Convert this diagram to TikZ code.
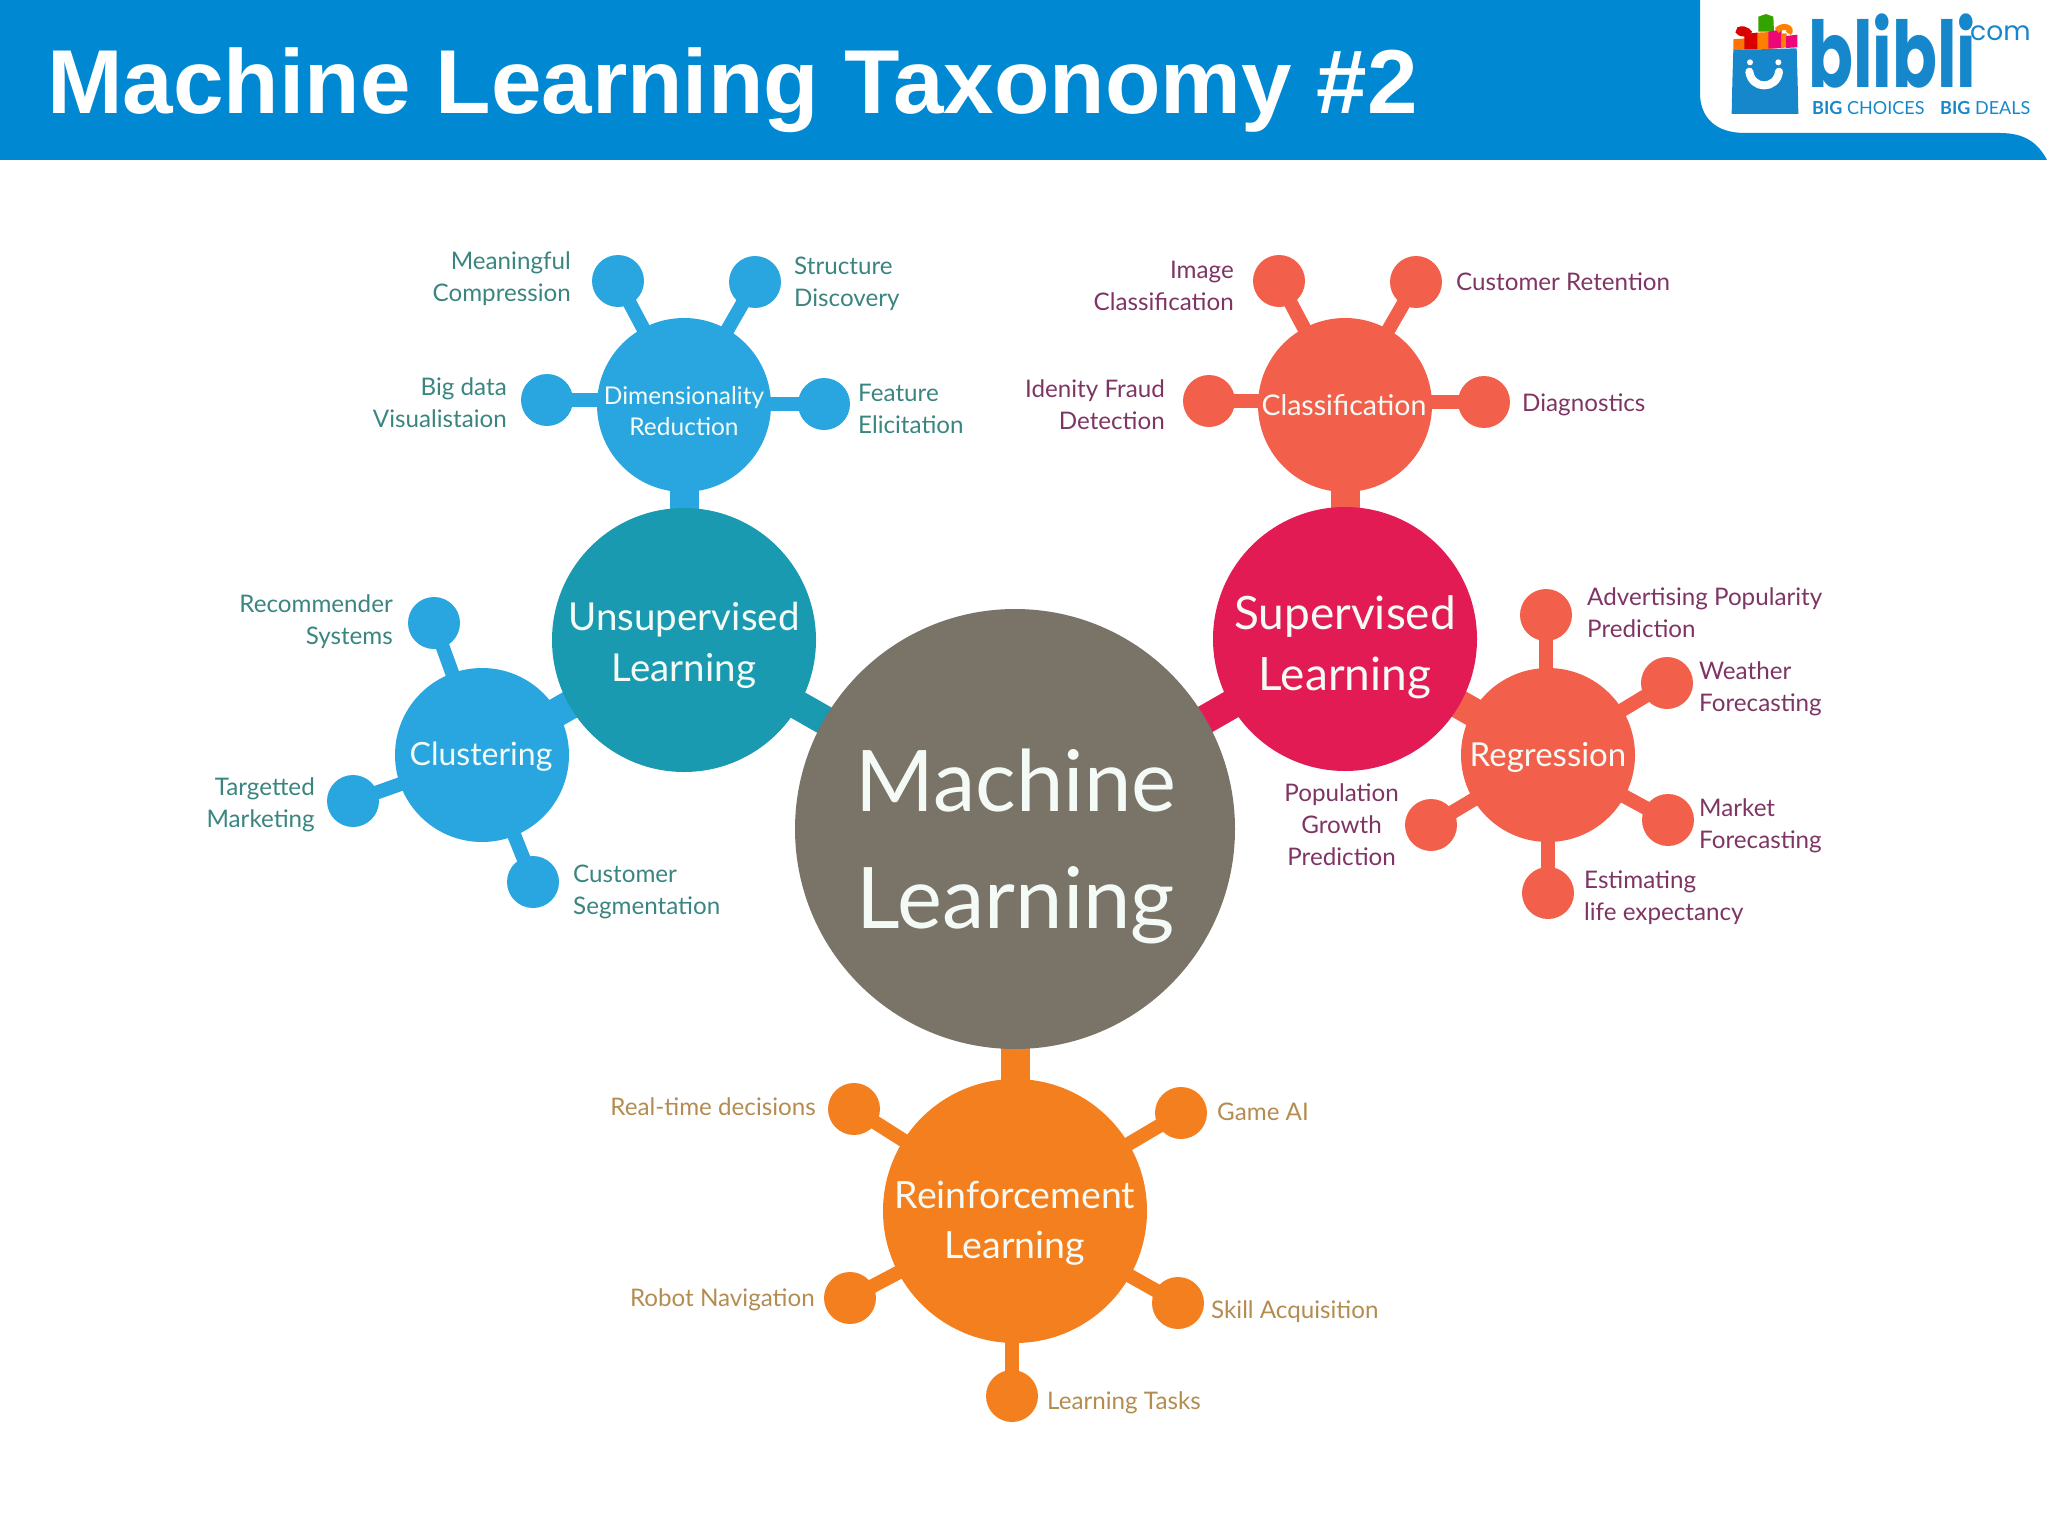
\documentclass[tikz,border=0pt]{standalone}
\usepackage{fontspec}
\setmainfont{Lato}
\newfontfamily\titlefont{Liberation Sans}
\newfontfamily\logofont{Poppins}
\usetikzlibrary{backgrounds}
\definecolor{hdr}{HTML}{0089D2}
\definecolor{logoblue}{HTML}{1787CC}
\definecolor{mlc}{HTML}{7A7368}
\definecolor{unsc}{HTML}{1A9AB0}
\definecolor{skyc}{HTML}{29A6E0}
\definecolor{supc}{HTML}{E31B54}
\definecolor{corc}{HTML}{F2604C}
\definecolor{orac}{HTML}{F47F1E}
\definecolor{tealt}{HTML}{3A8580}
\definecolor{maroont}{HTML}{7F3564}
\definecolor{tant}{HTML}{B48C50}
\definecolor{palet}{HTML}{F4FBF6}
\tikzset{
  disc/.style={circle,inner sep=0pt,fill=#1},
  root/.style={disc=mlc,minimum size=440pt},
  branch/.style={disc=#1,minimum size=264pt},
  sub/.style={disc=#1,minimum size=174pt},
  leaf/.style={disc=#1,minimum size=52pt},
  thick link/.style={line width=29pt,draw=#1},
  thin link/.style={line width=14pt,draw=#1},
  tag/.style={inner sep=0pt,align=#1,yshift=-2.5pt,font=\fontsize{24.2}{32}\selectfont},
  tl/.style={tag=left,anchor=west,text=tealt},
  tr/.style={tag=right,anchor=east,text=tealt},
  ml/.style={tag=left,anchor=west,text=maroont},
  mr/.style={tag=right,anchor=east,text=maroont},
  ol/.style={tag=left,anchor=west,text=tant},
  or/.style={tag=right,anchor=east,text=tant},
  hubtext/.style={inner sep=0pt,align=center,text=palet},
}
\begin{document}
\begin{tikzpicture}[x=1pt,y=-1pt]
\useasboundingbox (0,0) rectangle (2048,1536);
% header
\fill[hdr] (0,0) -- (1700,0) -- (1700,93) .. controls (1700,118) and (1716,133) .. (1745,133)
  -- (2000,133) .. controls (2025,133) and (2038,143) .. (2047,160) -- (0,160) -- cycle;
\node[anchor=base west,inner sep=0pt,text=white,font=\titlefont\bfseries\fontsize{90.8}{92}\selectfont] (title) at (47,114) {Machine Learning Taxonomy \#2};
% logo
\begin{scope}[shift={(1680,0)},x=0.3333pt,y=-0.3333pt]
  \fill[orange!90!red] (160,118) -- (232,112) -- (232,148) -- (160,150) -- cycle;
  \fill[green!55!black!80!yellow] (235,50) -- (258,42) -- (280,50) -- (282,95) -- (235,95) -- cycle;
  \fill[orange] (230,98) -- (292,95) -- (292,145) -- (230,148) -- cycle;
  \fill[red!85!black] (193,102) -- (232,98) -- (232,148) -- (193,148) -- cycle;
  \fill[magenta!80!red] (265,95) -- (305,88) -- (305,144) -- (265,146) -- cycle;
  \fill[orange] (305,100) -- (320,100) -- (320,142) -- (305,144) -- cycle;
  \fill[magenta!80!red] (318,108) -- (352,104) -- (352,142) -- (318,144) -- cycle;
  \draw[red!85!black,line width=6pt] (205,100) .. controls (170,105) and (170,85) .. (190,88) .. controls (200,90) and (205,95) .. (210,102);
  \draw[orange,line width=6pt] (290,92) .. controls (310,70) and (340,85) .. (325,100);
  \fill[logoblue] (160,150) -- (350,145) .. controls (352,210) and (354,280) .. (355,342) -- (155,342) .. controls (156,280) and (158,210) .. (160,150) -- cycle;
  \fill[white] (210,187) circle (9);
  \fill[white] (295,187) circle (9);
  \draw[white,line width=8pt,line cap=round] (208,215) .. controls (215,270) and (290,270) .. (297,215);
\end{scope}
\node[anchor=base west,inner sep=0pt,text=logoblue,font=\logofont\bfseries\fontsize{92}{92}\selectfont] (logoa) at (1808,88) {\scalebox{0.72}[1]{blibli}};
\node[anchor=base west,inner sep=0pt,text=logoblue,font=\logofont\fontsize{26.5}{27}\selectfont] (logob) at (1970,41) {com};
\node[anchor=base west,inner sep=0pt,text=logoblue,font=\fontsize{18}{18}\selectfont] (logoc) at (1812,115) {\textbf{BIG} CHOICES};
\node[anchor=base west,inner sep=0pt,text=logoblue,font=\fontsize{18}{18}\selectfont] (logod) at (1940,115) {\textbf{BIG} DEALS};

% hubs
\node[root] (ml) at (1015,829) {};
\node[branch=unsc] (uns) at (684,640) {};
\node[branch=supc] (sup) at (1345,639) {};
\node[branch=orac] (rei) at (1015,1211) {};
\node[sub=skyc] (dim) at (684,405) {};
\node[sub=corc] (cla) at (1345,405) {};
\node[sub=skyc] (clu) at (482,755) {};
\node[sub=corc] (reg) at (1548,755) {};
% leaves
\node[leaf=skyc] (d1) at (618,281) {};
\node[leaf=skyc] (d2) at (755,282) {};
\node[leaf=skyc] (d3) at (547,400) {};
\node[leaf=skyc] (d4) at (824,404) {};
\node[leaf=corc] (c1) at (1279,281) {};
\node[leaf=corc] (c2) at (1416,282) {};
\node[leaf=corc] (c3) at (1209,401) {};
\node[leaf=corc] (c4) at (1484,402) {};
\node[leaf=skyc] (k1) at (434,623) {};
\node[leaf=skyc] (k2) at (353,801) {};
\node[leaf=skyc] (k3) at (533,882) {};
\node[leaf=corc] (r1) at (1546,615) {};
\node[leaf=corc] (r2) at (1667,683) {};
\node[leaf=corc] (r3) at (1668,820) {};
\node[leaf=corc] (r4) at (1548,893) {};
\node[leaf=corc] (r5) at (1431,825) {};
\node[leaf=orac] (o1) at (854,1109) {};
\node[leaf=orac] (o2) at (1181,1113) {};
\node[leaf=orac] (o3) at (850,1298) {};
\node[leaf=orac] (o4) at (1178,1303) {};
\node[leaf=orac] (o5) at (1012,1396) {};
% connectors
\begin{pgfonlayer}{background}
\draw[thick link=unsc] (uns.center) -- (ml.center);
\draw[thick link=skyc] (uns.center) -- (clu.center);
\draw[thick link=skyc] (uns.center) -- (dim.center);
\draw[thick link=supc] (sup.center) -- (ml.center);
\draw[thick link=corc] (sup.center) -- (cla.center);
\draw[thick link=corc] (sup.center) -- (reg.center);
\draw[thick link=orac] (rei.center) -- (ml.center);
\foreach \a in {d1,d2} \draw[thin link=skyc] (dim.center) -- (\a.center);
\foreach \a in {d3,d4} \draw[thin link=skyc] (dim.center |- \a.center) -- (\a.center);
\foreach \a in {c1,c2} \draw[thin link=corc] (cla.center) -- (\a.center);
\foreach \a in {c3,c4} \draw[thin link=corc] (cla.center |- \a.center) -- (\a.center);
\foreach \a in {k1,k2,k3} \draw[thin link=skyc] (clu.center) -- (\a.center);
\foreach \a in {r2,r3,r5} \draw[thin link=corc] (reg.center) -- (\a.center);
\foreach \a in {r1,r4} \draw[thin link=corc] (\a.center |- reg.center) -- (\a.center);
\foreach \a in {o1,o2,o3,o4} \draw[thin link=orac] (rei.center) -- (\a.center);
\draw[thin link=orac] (o5.center |- rei.center) -- (o5.center);
\end{pgfonlayer}
% hub labels
\node[hubtext,font=\fontsize{85}{117}\selectfont] (tml) at (1016,846) {Machine\\Learning};
\node[hubtext,font=\fontsize{38.5}{51}\selectfont] (tuns) at (684,645) {Unsupervised\\Learning};
\node[hubtext,font=\fontsize{46}{61}\selectfont] (tsup) at (1345,647) {Supervised\\Learning};
\node[hubtext,font=\fontsize{37.5}{50}\selectfont] (trei) at (1015,1223) {Reinforcement\\Learning};
\node[hubtext,font=\fontsize{24.5}{31}\selectfont] (tdim) at (684,411) {Dimensionality\\Reduction};
\node[hubtext,font=\fontsize{28.5}{32}\selectfont] (tcla) at (1344,405) {Classification};
\node[hubtext,font=\fontsize{32}{36}\selectfont] (tclu) at (481,757) {Clustering};
\node[hubtext,font=\fontsize{33}{36}\selectfont] (treg) at (1548,757) {Regression};
% leaf labels
\node[tr] (l1) at (571,276) {Meaningful\\Compression};
\node[tl] (l2) at (794,281) {Structure\\Discovery};
\node[tr] (l3) at (507,400) {Big data\\Visualistaion};
\node[tl] (l4) at (858,406) {Feature\\Elicitation};
\node[mr] (l5) at (1234,283) {Image\\Classification};
\node[ml] (l6) at (1456,279) {Customer Retention};
\node[mr] (l7) at (1165,402) {Idenity Fraud\\Detection};
\node[ml] (l8) at (1522,402) {Diagnostics};
\node[tr] (l9) at (393,619) {Recommender\\Systems};
\node[tr] (l10) at (315,802) {Targetted\\Marketing};
\node[tl] (l11) at (573,889) {Customer\\Segmentation};
\node[ml] (l12) at (1587,610) {Advertising Popularity\\Prediction};
\node[ml] (l13) at (1699,686) {Weather\\Forecasting};
\node[ml] (l14) at (1699,823) {Market\\Forecasting};
\node[ml] (l15) at (1584,895) {Estimating\\life expectancy};
\node[mr,align=center] (l16) at (1399,822) {Population\\Growth\\Prediction};
\node[or] (l17) at (816,1104) {Real-time decisions};
\node[ol] (l18) at (1217,1109) {Game AI};
\node[or] (l19) at (815,1297) {Robot Navigation};
\node[ol] (l20) at (1211,1309) {Skill Acquisition};
\node[ol] (l21) at (1047,1400) {Learning Tasks};
\end{tikzpicture}
\end{document}
